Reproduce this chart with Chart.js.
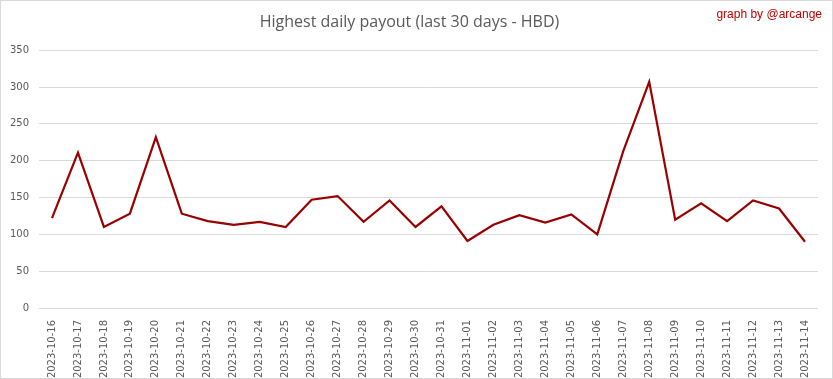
<!DOCTYPE html>
<html>
<head>
<meta charset="utf-8">
<script src="https://cdn.jsdelivr.net/npm/chart.js@4"></script>
<style>
html,body{margin:0;padding:0;background:#fff;}
#wrap{position:absolute;left:0;top:0;width:833px;height:379px;box-sizing:border-box;border:1px solid #d9d9d9;background:#fff;}
canvas{display:block;}
</style>
</head>
<body>
<div id="wrap"><canvas id="c" width="831" height="377"></canvas></div>
<script>
const categories = ["2023-10-16","2023-10-17","2023-10-18","2023-10-19","2023-10-20","2023-10-21","2023-10-22","2023-10-23","2023-10-24","2023-10-25","2023-10-26","2023-10-27","2023-10-28","2023-10-29","2023-10-30","2023-10-31","2023-11-01","2023-11-02","2023-11-03","2023-11-04","2023-11-05","2023-11-06","2023-11-07","2023-11-08","2023-11-09","2023-11-10","2023-11-11","2023-11-12","2023-11-13","2023-11-14"];
const payout = [122,211,110,128,232,128,118,113,117,110,147,152,117,146,110,138,91,113,126,116,127,100,213,307,120,142,118,146,135,90];
const yTicks = [0,50,100,150,200,250,300,350];
const titleText = "Highest daily payout (last 30 days - HBD)";
const creditText = "graph by @arcange";

const creditPlugin = {
  id: 'credit',
  afterDraw(chart) {
    const ctx = chart.ctx;
    ctx.save();
    ctx.font = '12px "Liberation Sans Narrow", "Liberation Sans", Arial, sans-serif';
    ctx.fillStyle = '#c00000';
    ctx.textAlign = 'right';
    ctx.textBaseline = 'middle';
    ctx.fillText(creditText, 821, 14);
    ctx.restore();
  }
};

new Chart(document.getElementById('c'), {
  type: 'line',
  data: {
    labels: categories,
    datasets: [{
      data: payout,
      borderColor: '#990000',
      borderWidth: 2.2,
      pointRadius: 0,
      tension: 0,
      fill: false
    }]
  },
  options: {
    responsive: false,
    animation: false,
    layout: { padding: { left: 0, right: 14, top: 0, bottom: 0 } },
    plugins: {
      legend: { display: false },
      tooltip: { enabled: false },
      title: {
        display: true,
        text: titleText,
        color: '#595959',
        font: { family: '"Open Sans", sans-serif', size: 16, weight: 'normal' },
        padding: { top: 12, bottom: 18 }
      }
    },
    scales: {
      x: {
        offset: true,
        grid: { display: false },
        border: { display: false },
        ticks: {
          color: '#595959',
          font: { family: '"DejaVu Sans", sans-serif', size: 10 },
          maxRotation: 90, minRotation: 90,
          autoSkip: false,
          padding: 4
        },
        afterFit(s) { s.height = 70; }
      },
      y: {
        min: 0, max: 350,
        afterBuildTicks(s) { s.ticks = yTicks.map(v => ({ value: v })); },
        grid: { color: '#d9d9d9', lineWidth: 1, drawTicks: false, tickLength: 0 },
        border: { display: false },
        ticks: {
          color: '#595959',
          font: { family: '"DejaVu Sans", sans-serif', size: 10 },
          padding: 10
        },
        afterFit(s) { s.width = 38; }
      }
    }
  },
  plugins: [creditPlugin]
});
</script>
</body>
</html>
